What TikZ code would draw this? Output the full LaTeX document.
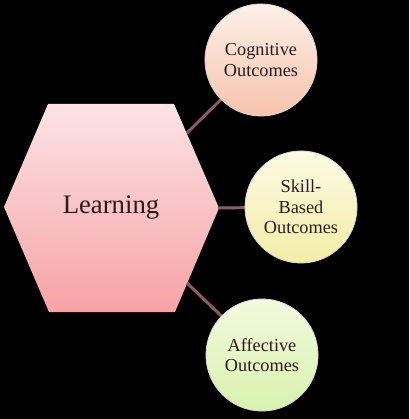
\documentclass[tikz,border=0pt]{standalone}
\usepackage{fontspec}
\setmainfont{Liberation Serif}
\usepackage{tikz}
\usetikzlibrary{shapes.geometric, positioning}
\usepackage{xcolor}
\definecolor{hextop}{HTML}{FCE3E5}
\definecolor{hexbot}{HTML}{F6A3A6}
\definecolor{cogtop}{HTML}{FDF0EA}
\definecolor{cogbot}{HTML}{F7C3AC}
\definecolor{skilltop}{HTML}{FCFAE4}
\definecolor{skillbot}{HTML}{F3EDA6}
\definecolor{afftop}{HTML}{F3FADF}
\definecolor{affbot}{HTML}{D9F1AE}
\definecolor{linkcol}{HTML}{8C5B69}
\definecolor{textcol}{HTML}{2B1B1C}
\tikzset{
	outcome/.style={circle, draw=white!85!black, line width=0.6pt, minimum size=2.8cm, align=center, text=textcol, font=\fontsize{13}{14.5}\selectfont},
	link/.style={draw=linkcol, line width=2.1pt}
}
\begin{document}
\begin{tikzpicture}[x=0.025cm, y=-0.025cm]
		\fill[black] (0,0) rectangle (409,419);
		
		\shade[top color=hextop, bottom color=hexbot] (4,207) -- (48,104) -- (174,104) -- (219,208) -- (175,312) -- (49,312) -- cycle;
		\node[text=textcol, font=\fontsize{19}{22}\selectfont] (learning) at (111,208) {Learning};
		
		\coordinate (hexNE) at (187,133);
		\coordinate (hexE)  at (218,208);
		\coordinate (hexSE) at (187,283);
		
		\coordinate (cogpos)   at (261,60);
		\coordinate (skillpos) at (301,207);
		\coordinate (affpos)   at (262,355);
		
		\draw[link] (hexNE) -- (cogpos);
		\draw[link] (hexE)  -- (skillpos);
		\draw[link] (hexSE) -- (affpos);
		
		\node[outcome, top color=cogtop, bottom color=cogbot] (cognitive) at (cogpos) {Cognitive\\Outcomes};
		\node[outcome, top color=skilltop, bottom color=skillbot] (skill) at (skillpos) {Skill-\\Based\\Outcomes};
		\node[outcome, top color=afftop, bottom color=affbot] (affective) at (affpos) {Affective\\Outcomes};
	\end{tikzpicture}
\end{document}
